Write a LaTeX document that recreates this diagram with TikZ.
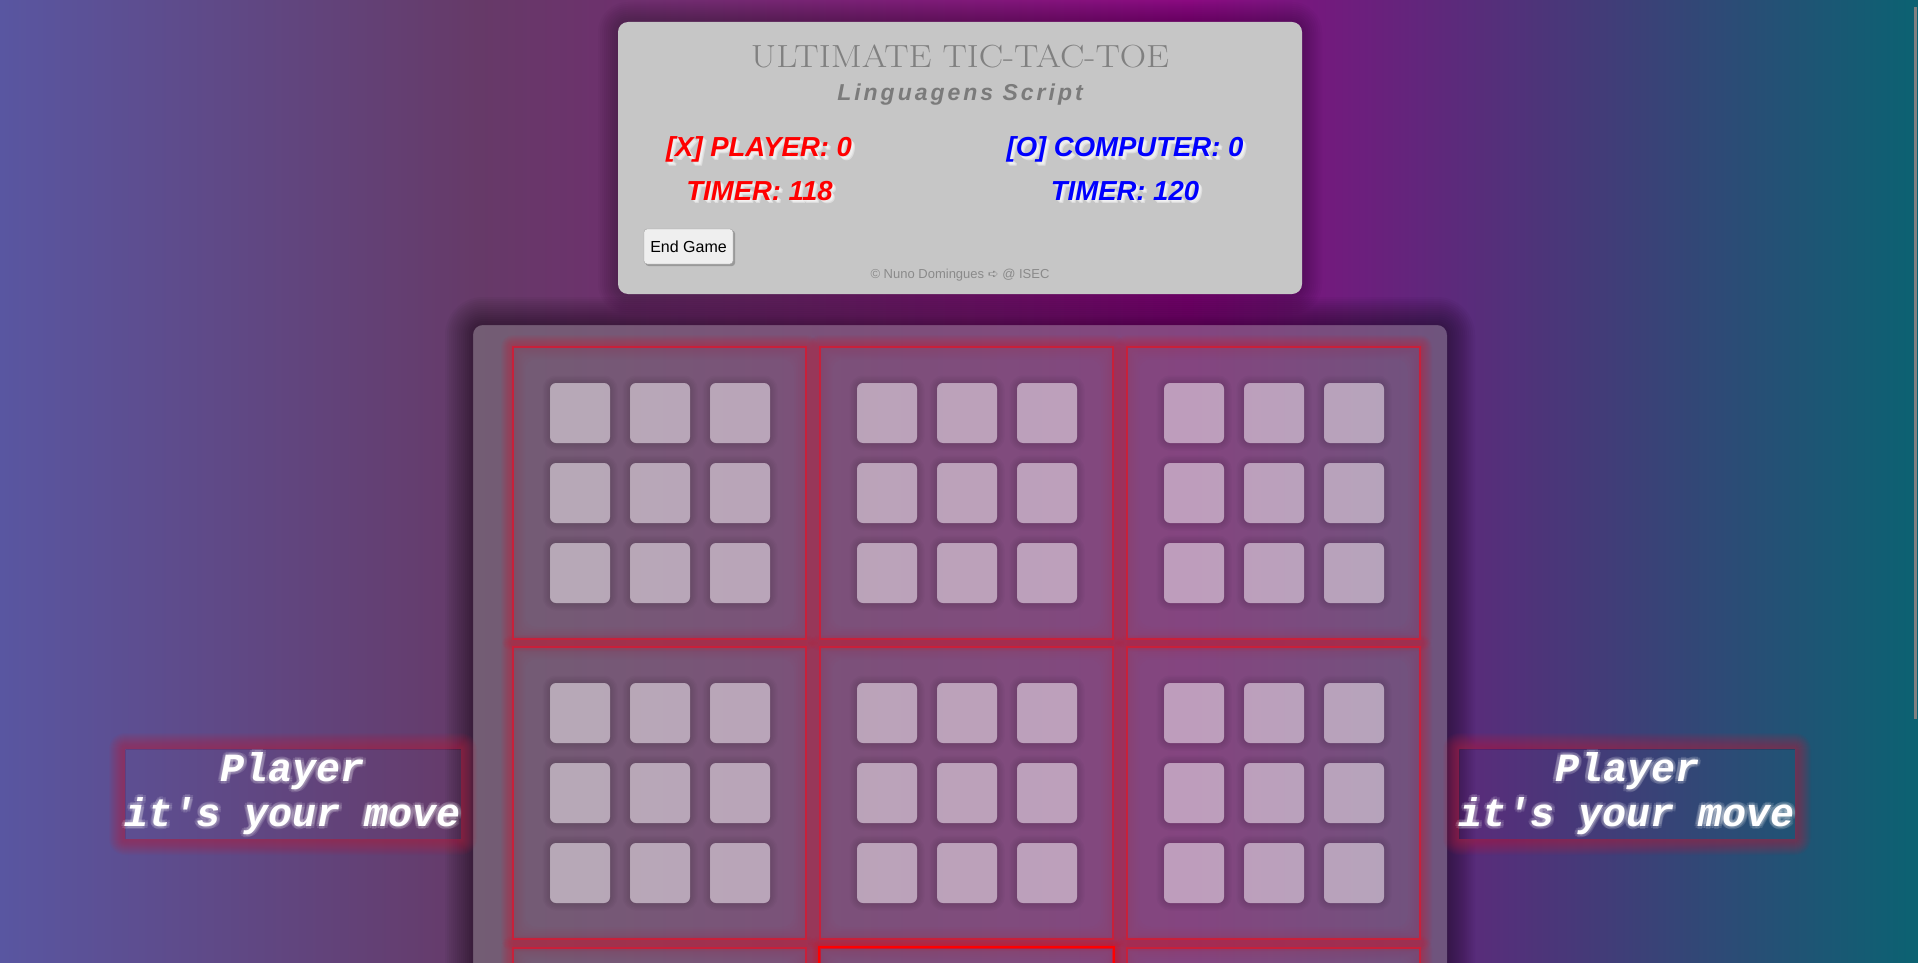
\documentclass[tikz,border=0pt]{standalone}
\usepackage{fontspec}
\newfontfamily\arialfont{Liberation Sans}
\newfontfamily\arialspaced{Liberation Sans}[LetterSpace=13]
\newfontfamily\courierfont{Liberation Mono}
\newfontfamily\dejavufont{DejaVu Sans}
\definecolor{bgA}{HTML}{5956A1}
\definecolor{bgB}{HTML}{663A68}
\definecolor{bgC}{HTML}{8A0A80}
\definecolor{bgD}{HTML}{0B6272}
\definecolor{headgray}{HTML}{C6C6C6}
\definecolor{titlegray}{HTML}{808080}
\definecolor{subgray}{HTML}{7B7B7B}
\definecolor{footgray}{HTML}{8A8A8A}
\definecolor{xred}{HTML}{FF0000}
\definecolor{oblue}{HTML}{0000FF}
\definecolor{boardred}{HTML}{C8203A}
\definecolor{glowred}{HTML}{C02040}
\definecolor{btnfill}{HTML}{EFEFEF}
\definecolor{btnedge}{HTML}{A0A0A0}
\pgfdeclarehorizontalshading{pagebg}{100bp}{color(0bp)=(bgA); color(25bp)=(bgA); color(37.45bp)=(bgB); color(56bp)=(bgC); color(75bp)=(bgD); color(100bp)=(bgD)}

\begin{document}
\begin{tikzpicture}[x=1pt, y=-1pt,
    score/.style = {anchor=base, inner sep=0pt, font=\arialfont\bfseries\itshape\fontsize{27.5}{33}\selectfont},
    subboard/.style = {draw=boardred, line width=2pt, minimum width=293pt, minimum height=292pt, inner sep=0pt},
    cell/.style = {rounded corners=6pt, fill=white, fill opacity=0.48, minimum size=60pt, inner sep=0pt},
    msgbox/.style = {minimum width=336pt, minimum height=90pt, inner sep=0pt},
    msgtext/.style = {anchor=base, inner sep=0pt, text=white, font=\courierfont\bfseries\itshape\fontsize{40}{45}\selectfont}]
  \useasboundingbox (0,0) rectangle (1918,963);
  \shade[shading=pagebg] (0,0) rectangle (1918,963);
  \fill[gray] (1914,7) rectangle (1916.5,719);

  % header
  \foreach \s in {2,4,...,20}
    \fill[black, opacity=0.025, even odd rule] [rounded corners=10pt+\s pt] (618-\s,22-\s) rectangle (1302+\s,294+\s) [rounded corners=10pt] (618,22) rectangle (1302,294);
  \fill[headgray, rounded corners=10pt] (618,22) rectangle (1302,294);
  \node[anchor=base, inner sep=0pt, text=titlegray, font=\rmfamily\fontsize{32}{38}\selectfont] (title) at (960,68) {\scalebox{1.14}[1]{ULTIMATE TIC-TAC-TOE}};
  \node[anchor=base, inner sep=0pt, text=subgray, font=\arialspaced\bfseries\itshape\fontsize{23}{28}\selectfont] (course) at (960,100.7) {Linguagens Script};

  \foreach \dd in {1.5,2.5,3.5} {
    \node[score, text=white, text opacity=0.4] (pshadow) at (759+\dd,157+\dd) {[X] PLAYER: 0};
    \node[score, text=white, text opacity=0.4] (cshadow) at (1125+\dd,157+\dd) {[O] COMPUTER: 0};
    \node[score, text=white, text opacity=0.4] (ptshadow) at (759.5+\dd,200+\dd) {TIMER: 118};
    \node[score, text=white, text opacity=0.4] (ctshadow) at (1125+\dd,200+\dd) {TIMER: 120};
  }
  \node[score, text=xred] (player) at (759,157) {[X] PLAYER: 0};
  \node[score, text=oblue] (computer) at (1125,157) {[O] COMPUTER: 0};
  \node[score, text=xred] (ptimer) at (759.5,200) {TIMER: 118};
  \node[score, text=oblue] (ctimer) at (1125,200) {TIMER: 120};

  \fill[black!40, rounded corners=3pt] (645.5,230.5) rectangle (735,266);
  \node[draw=btnedge, fill=btnfill, rounded corners=3pt, minimum width=89pt, minimum height=35pt, inner sep=0pt,
        font=\arialfont\fontsize{16}{19}\selectfont] (endgame) at (688.5,246.5) {End Game};
  \node[anchor=base, inner sep=0pt, text=footgray, font=\arialfont\fontsize{13}{15}\selectfont] (credit) at (960,278)
    {© Nuno Domingues {\dejavufont ➪} @ ISEC};

  % board
  \foreach \s in {2,4,...,28}
    \fill[black, opacity=0.03, even odd rule] [rounded corners=10pt+\s pt] (473-\s,325-\s) rectangle (1447+\s,1000) [rounded corners=10pt] (473,325) rectangle (1447,1000);
  \fill[gray, opacity=0.5, rounded corners=10pt] (473,325) rectangle (1447,1000);

  \foreach \bx [count=\i] in {513,820,1127} {
    \foreach \by [count=\j] in {347,647,948} {
      \foreach \s in {1,...,12}
        \fill[boardred, opacity=0.05, even odd rule] [rounded corners=\s pt] (\bx-\s,\by-\s) rectangle (\bx+293+\s,\by+292+\s) [sharp corners] (\bx,\by) rectangle (\bx+293,\by+292);
      \foreach \s in {2,4,...,12}
        \fill[boardred, opacity=0.025, even odd rule] (\bx,\by) rectangle (\bx+293,\by+292) [rounded corners=\s pt] (\bx+\s,\by+\s) rectangle (\bx+293-\s,\by+292-\s);
      \node[subboard] (sb\i\j) at (\bx+146.5,\by+146) {};
      \foreach \cx [count=\k] in {67,147,227} {
        \foreach \cy [count=\l] in {66,146,226} {
          \foreach \s in {1.5,3,4.5,6,7.5}
            \fill[black, opacity=0.022, even odd rule] [rounded corners=6pt+\s pt] (\bx+\cx-30-\s,\by+\cy-30-\s) rectangle (\bx+\cx+30+\s,\by+\cy+30+\s) [rounded corners=6pt] (\bx+\cx-30,\by+\cy-30) rectangle (\bx+\cx+30,\by+\cy+30);
          \node[cell] (c\i\j\k\l) at (\bx+\cx,\by+\cy) {};
        }
      }
    }
  }
  % active board
  \foreach \s in {1,...,8}
    \fill[xred, opacity=0.04, even odd rule] [rounded corners=\s pt] (820-\s,948-\s) rectangle (1113+\s,1240+\s) [sharp corners] (820,948) rectangle (1113,1240);
  \draw[xred, line width=2pt] (sb23.north west) rectangle (sb23.south east);

  % messages
  \foreach \x/\nm in {125/msgL, 1459/msgR} {
    \foreach \s in {1,...,16}
      \fill[glowred, opacity=0.045, even odd rule] [rounded corners=\s pt] (\x-\s,749-\s) rectangle (\x+336+\s,839+\s) [sharp corners] (\x,749) rectangle (\x+336,839);
    \node[msgbox] (\nm) at (\x+168,794) {};
    \foreach \a in {0,45,...,315} {
      \node[msgtext, text opacity=0.13, shift={(\a:3)}] (\nm glowa) at (\x+168,781.7) {Player};
      \node[msgtext, text opacity=0.13, shift={(\a:3)}] (\nm glowb) at (\x+168,826.7) {it's your move};
    }
    \node[msgtext] (\nm a) at (\x+168,781.7) {Player};
    \node[msgtext] (\nm b) at (\x+168,826.7) {it's your move};
  }
\end{tikzpicture}
\end{document}
